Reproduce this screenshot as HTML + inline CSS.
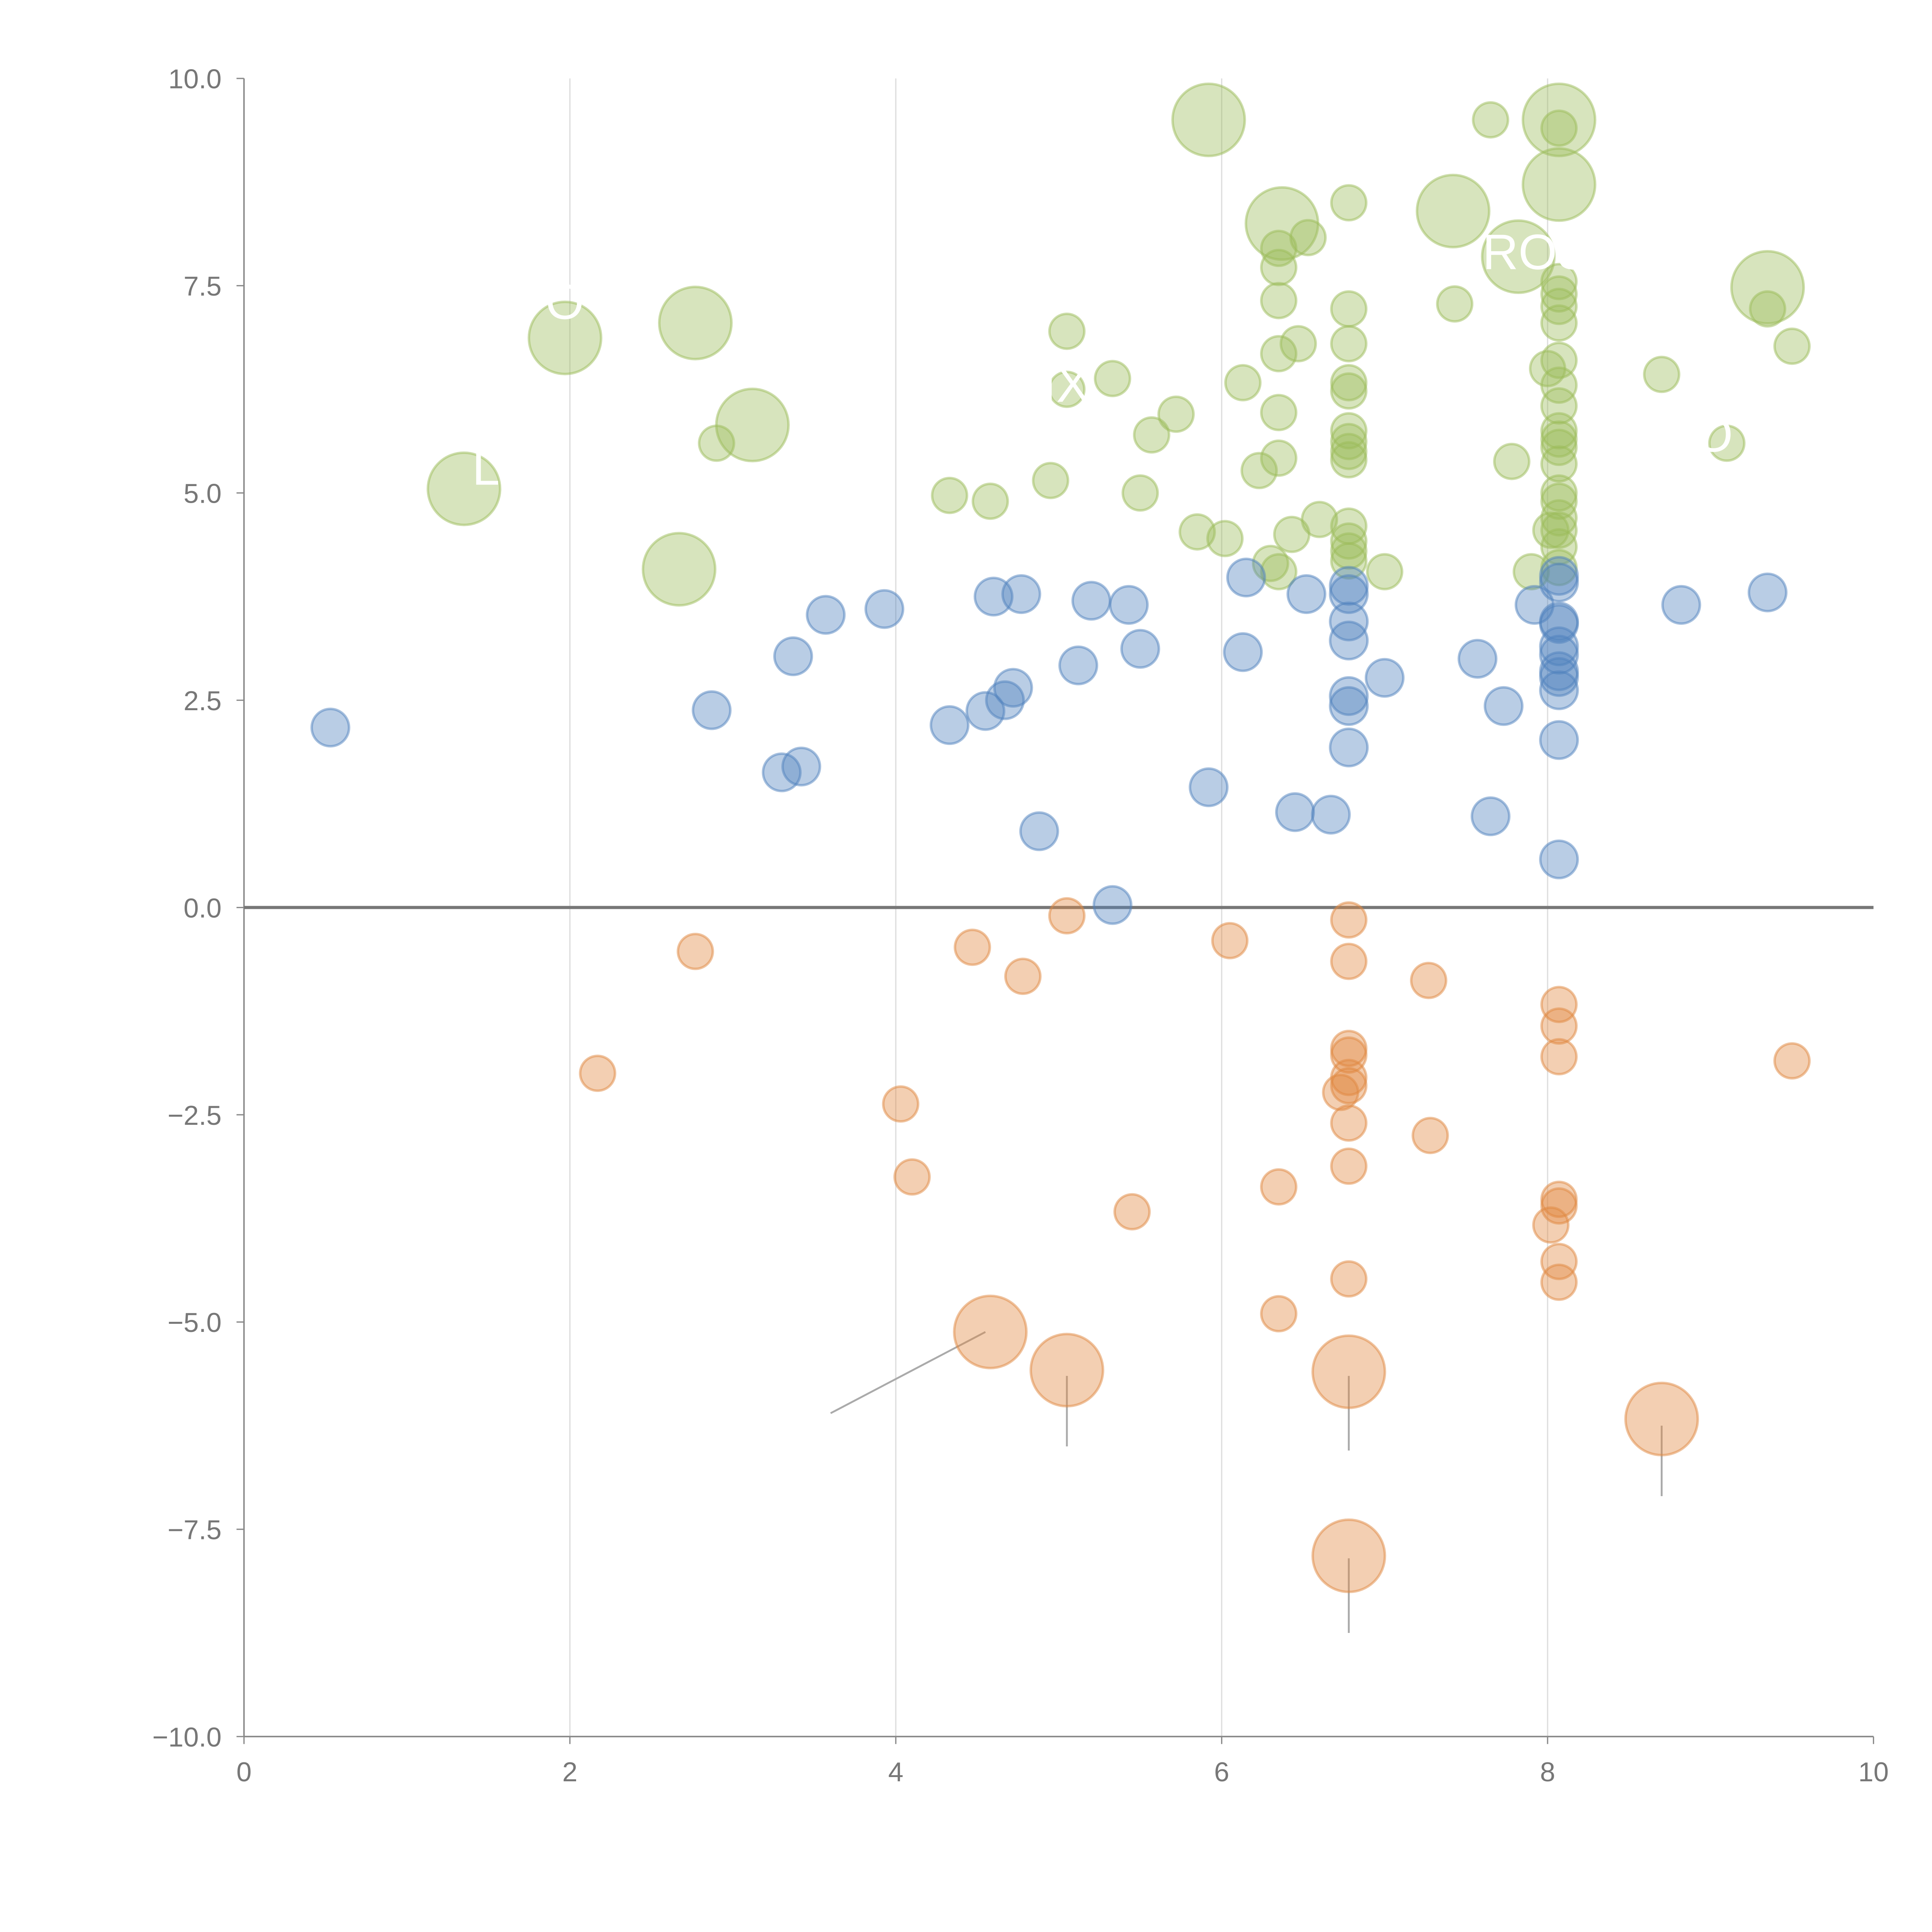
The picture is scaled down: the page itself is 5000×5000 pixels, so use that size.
<!DOCTYPE html>
<html><head><meta charset="utf-8"><style>html,body{margin:0;padding:0;background:#fff}svg{display:block}</style></head>
<body>
<svg id="chart" width="5000" height="5000" viewBox="0 0 1552 1552" xmlns="http://www.w3.org/2000/svg" font-family="Liberation Sans, sans-serif">
<g id="grid"></g>
<g id="axes"></g>
<g id="leaders"></g>
<g id="marks"></g>
<g id="labels"></g>
</svg>
<script>
const xTicks=[0,2,4,6,8,10];
const yTicks=[-10,-7.5,-5,-2.5,0,2.5,5,7.5,10];
const greenSmall=[[5.05,6.95],[5.05,6.25],[5.33,6.38],[5.72,5.95],[5.57,5.7],[4.95,5.15],[5.5,5.0],[4.33,4.97],[4.58,4.9],[2.9,5.6],[5.85,4.53],[6.02,4.45],[6.3,4.15],[6.35,4.05],[6.43,4.5],[6.6,4.68],[7.0,4.05],[6.23,5.27],[6.35,5.42],[6.13,6.33],[6.35,5.97],[6.35,6.68],[6.47,6.8],[6.35,7.32],[6.35,7.72],[6.35,7.95],[6.53,8.08],[6.78,8.5],[6.78,7.22],[6.78,6.8],[6.78,6.33],[6.78,6.23],[6.78,5.75],[6.78,5.62],[6.78,5.5],[6.78,5.4],[6.78,4.6],[6.78,4.42],[6.78,4.3],[6.78,4.18],[7.43,7.28],[7.65,9.5],[7.78,5.38],[7.9,4.05],[8.07,9.4],[8.07,7.55],[8.07,7.4],[8.07,7.25],[8.07,7.05],[8.07,6.6],[8.0,6.5],[8.07,6.3],[8.07,6.05],[8.07,5.75],[8.07,5.65],[8.07,5.55],[8.07,5.35],[8.07,5.0],[8.07,4.9],[8.07,4.7],[8.07,4.55],[8.02,4.55],[8.07,4.35],[8.07,4.1],[8.7,6.43],[9.1,5.6],[9.35,7.22],[9.5,6.77]];
const greenLarge=[[5.92,9.5],[8.07,9.5],[8.07,8.72],[7.42,8.4],[6.37,8.25],[7.82,7.85],[9.35,7.48],[1.97,6.87],[2.77,7.05],[3.12,5.82],[1.35,5.05],[2.67,4.08]];
const blue=[[0.53,2.17],[2.87,2.38],[3.3,1.63],[3.42,1.7],[3.37,3.03],[3.57,3.53],[3.93,3.6],[4.33,2.2],[4.55,2.37],[4.67,2.5],[4.72,2.65],[4.6,3.75],[4.77,3.78],[4.88,0.92],[5.12,2.92],[5.2,3.7],[5.43,3.65],[5.5,3.12],[5.33,0.03],[5.92,1.45],[6.13,3.08],[6.15,3.98],[6.45,1.15],[6.52,3.78],[6.67,1.12],[6.78,3.88],[6.78,3.78],[6.78,3.45],[6.78,3.22],[6.78,2.55],[6.78,2.43],[6.78,1.93],[7.0,2.77],[7.57,3.0],[7.65,1.1],[7.73,2.43],[7.92,3.65],[8.07,4.0],[8.07,3.92],[8.07,3.45],[8.07,3.42],[8.07,3.15],[8.07,3.05],[8.07,2.85],[8.07,2.78],[8.07,2.62],[8.07,2.02],[8.07,0.58],[8.82,3.65],[9.35,3.8]];
const orangeSmall=[[2.77,-0.53],[2.17,-2.0],[4.03,-2.37],[4.1,-3.25],[4.47,-0.48],[4.78,-0.83],[5.05,-0.1],[5.45,-3.67],[6.05,-0.4],[6.35,-3.37],[6.35,-4.9],[6.78,-0.15],[6.78,-0.65],[6.78,-1.7],[6.78,-1.78],[6.78,-2.05],[6.78,-2.15],[6.73,-2.23],[6.78,-2.6],[6.78,-3.12],[6.78,-4.48],[7.27,-0.88],[7.28,-2.75],[8.07,-1.17],[8.07,-1.43],[8.07,-1.8],[8.07,-3.52],[8.07,-3.6],[8.02,-3.83],[8.07,-4.27],[8.07,-4.52],[9.5,-1.85]];
const orangeLarge=[[4.58,-5.12],[5.05,-5.58],[6.78,-5.6],[8.7,-6.17],[6.78,-7.82]];
const leaderLines=[[4.55,-5.12,3.6,-6.1],[5.05,-5.65,5.05,-6.5],[6.78,-5.65,6.78,-6.55],[8.7,-6.25,8.7,-7.1],[6.78,-7.85,6.78,-8.75]];
const labelTexts=[["ROS",7.6,7.7],["O",8.9,5.5],["IX",4.9,6.1],["L",1.4,5.1],["O",1.85,7.1]];

const NS="http://www.w3.org/2000/svg";
const X=v=>196+v*130.9, Y=v=>729-v*66.6;
function mk(tag,attrs,parent){const e=document.createElementNS(NS,tag);for(const k in attrs)e.setAttribute(k,attrs[k]);parent.appendChild(e);return e;}
const grid=document.getElementById('grid'),axes=document.getElementById('axes'),marks=document.getElementById('marks'),leaders=document.getElementById('leaders'),labels=document.getElementById('labels');
xTicks.forEach(t=>{
  if(t>0&&t<10){const g=mk('line',{x1:X(t),x2:X(t),y1:Y(10),y2:Y(-10),stroke:'#ddd','stroke-width':1},grid);
  
  }
  const tk=mk('line',{x1:X(t),x2:X(t),y1:Y(-10),y2:Y(-10)+6,stroke:'#888','stroke-width':1},axes);
  
  
  const tx=mk('text',{x:X(t),y:Y(-10)+36,'text-anchor':'middle','font-size':22,fill:'#777'},axes);
  tx.textContent=String(t);
  
  
});
yTicks.forEach(t=>{
  const tk=mk('line',{x1:X(0)-6,x2:X(0),y1:Y(t),y2:Y(t),stroke:'#888','stroke-width':1},axes);
  
  
  const tx=mk('text',{x:X(0)-18,y:Y(t)+8,'text-anchor':'end','font-size':22,fill:'#777'},axes);
  tx.textContent=(t<0?'\u2212':'')+Math.abs(t).toFixed(1);
  
  
});
const ya=mk('line',{x1:X(0),x2:X(0),y1:Y(10),y2:Y(-10),stroke:'#888','stroke-width':1.2},axes);


const xa=mk('line',{x1:X(0),x2:X(10),y1:Y(-10),y2:Y(-10),stroke:'#888','stroke-width':1.2},axes);


const zl=mk('line',{x1:X(0),x2:X(10),y1:Y(0),y2:Y(0),stroke:'#777','stroke-width':2.5},axes);


leaderLines.forEach(l=>{
  const e=mk('line',{x1:X(l[0]),y1:Y(l[1]),x2:X(l[2]),y2:Y(l[3]),stroke:'#aaa','stroke-width':1.5},leaders);
  
  
});
function draw(arr,r,fill,stroke,name){arr.forEach(p=>{
  const c=mk('circle',{cx:X(p[0]),cy:Y(p[1]),r:r,fill:fill,'fill-opacity':0.4,stroke:stroke,'stroke-opacity':0.5,'stroke-width':2},marks);
  
  
});}
draw(greenLarge,29,'#9bbb59','#9bbb59','green-bubble-large');
draw(greenSmall,14,'#9bbb59','#9bbb59','green-bubble');
draw(blue,15,'#4f81bd','#4f81bd','blue-bubble');
draw(orangeSmall,14,'#e0873f','#e0873f','orange-bubble');
draw(orangeLarge,29,'#e0873f','#e0873f','orange-bubble-large');
labelTexts.forEach(l=>{
  const t=mk('text',{x:X(l[1]),y:Y(l[2]),'font-size':40,fill:'#fff'},labels);
  t.textContent=l[0];
  
  
});
</script>
</body></html>
